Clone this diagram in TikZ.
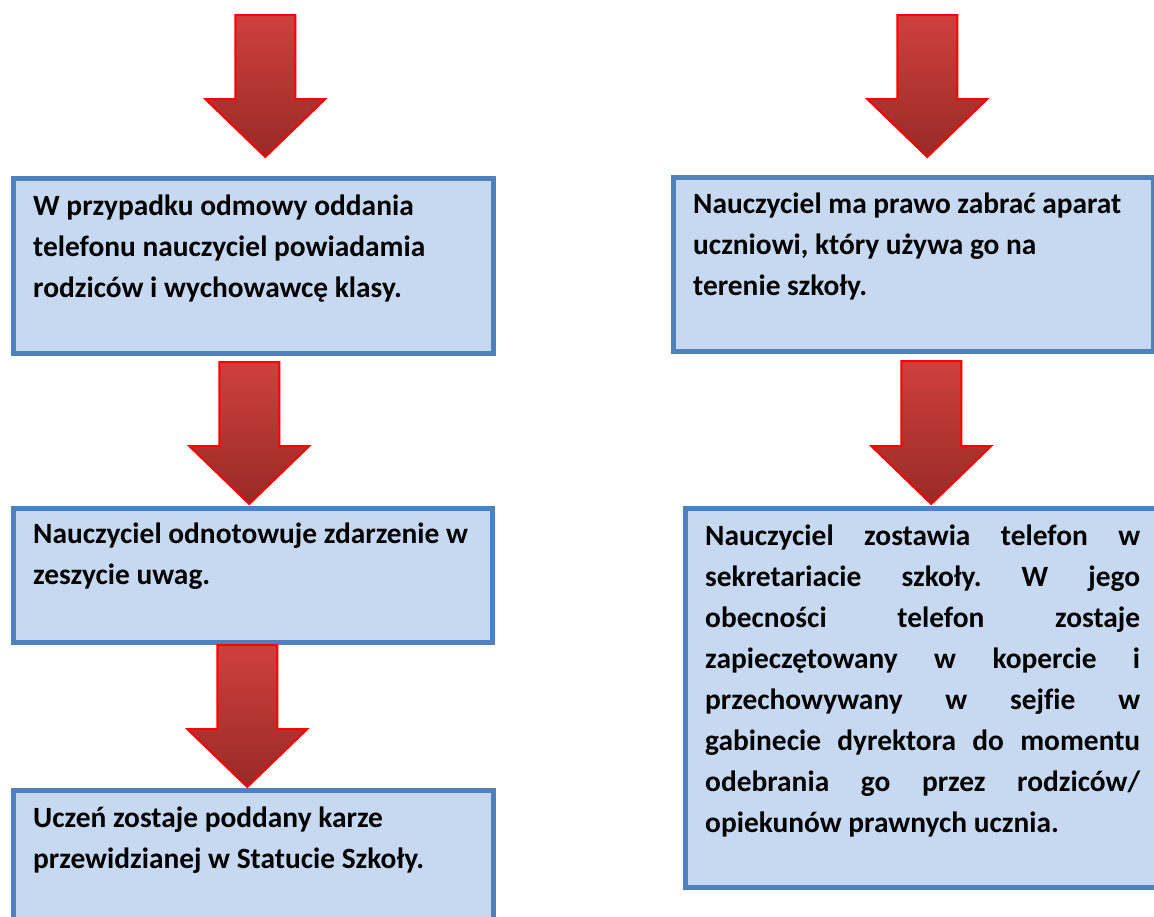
\documentclass[tikz,border=0pt]{standalone}
\usepackage{fontspec}
\usepackage{tikz}
\setmainfont{Carlito}[Ligatures=NoCommon]
\frenchspacing

\definecolor{boxblue}{HTML}{4F81BD}
\definecolor{boxfill}{HTML}{C6D9F1}
\definecolor{arrowtop}{HTML}{CF403D}
\definecolor{arrowbot}{HTML}{982A27}

\begin{document}
\begin{tikzpicture}[x=1pt, y=-1pt,
	box/.style={draw=boxblue, line width=4.5pt, fill=boxfill, inner sep=0pt, anchor=north west, minimum width=480pt},
	txt/.style={anchor=base west, align=left, inner sep=0pt, font=\bfseries\fontsize{29.4}{41}\selectfont},
	redarrow/.style={draw=red, line width=2pt, top color=arrowtop, bottom color=arrowbot}]

\useasboundingbox (0,0) rectangle (1154,916);
\clip (0,0) rectangle (1154,916);

% Justified line of the long box
\def\jline#1{\makebox[435pt][s]{#1}}

% Left column boxes
\node[box, minimum height=175pt] (b1) at (11,176) {};
\node[box, minimum height=134pt, minimum width=479pt] (b2) at (11,506) {};
\node[box, minimum height=160pt] (b3) at (11,788) {};

% Right column boxes
\node[box, minimum height=174pt] (r1) at (671,175) {};
\node[box, minimum height=379pt] (r2) at (683,506) {};

% Texts (placed by the baseline of their last line)
\node[txt] (t1) at ([shift={(22,121)}]b1.north west) {W przypadku odmowy oddania\\telefonu nauczyciel powiadamia\\rodziców i wychowawcę klasy.};
\node[txt] (t2) at ([shift={(22,78)}]b2.north west) {Nauczyciel odnotowuje zdarzenie w\\zeszycie uwag.};
\node[txt] (t3) at ([shift={(22,80)}]b3.north west) {Uczeń zostaje poddany karze\\przewidzianej w Statucie Szkoły.};
\node[txt] (t4) at ([shift={(22,120)}]r1.north west) {Nauczyciel ma prawo zabrać aparat\\uczniowi, który używa go na\\terenie szkoły.};
\node[txt] (t5) at ([shift={(22,326)}]r2.north west) {\jline{Nauczyciel zostawia telefon w}\\
	\jline{sekretariacie szkoły. W jego}\\
	\jline{obecności telefon zostaje}\\
	\jline{zapieczętowany w kopercie i}\\
	\jline{przechowywany w sejfie w}\\
	\jline{gabinecie dyrektora do momentu}\\
	\jline{odebrania go przez rodziców/}\\
	opiekunów prawnych ucznia.};

% Tips of the arrows
\coordinate (a1) at ([shift={(12,-19)}]b1.north);
\coordinate (a2) at ([shift={(-3.5,-2)}]b2.north);
\coordinate (a3) at ([shift={(-6,-1)}]b3.north);
\coordinate (a4) at ([shift={(14,-18)}]r1.north);
\coordinate (a5) at ([shift={(6,-2)}]r2.north);

% Arrows
\foreach \t/\len in {a1/84, a2/84, a3/84, a4/84, a5/85} {
	\draw[redarrow] (\t) -- ++(-60,-58) -- ++(30,0) -- ++(0,-\len) -- ++(60,0) -- ++(0,\len) -- ++(30,0) -- cycle;
}

\end{tikzpicture}
\end{document}
